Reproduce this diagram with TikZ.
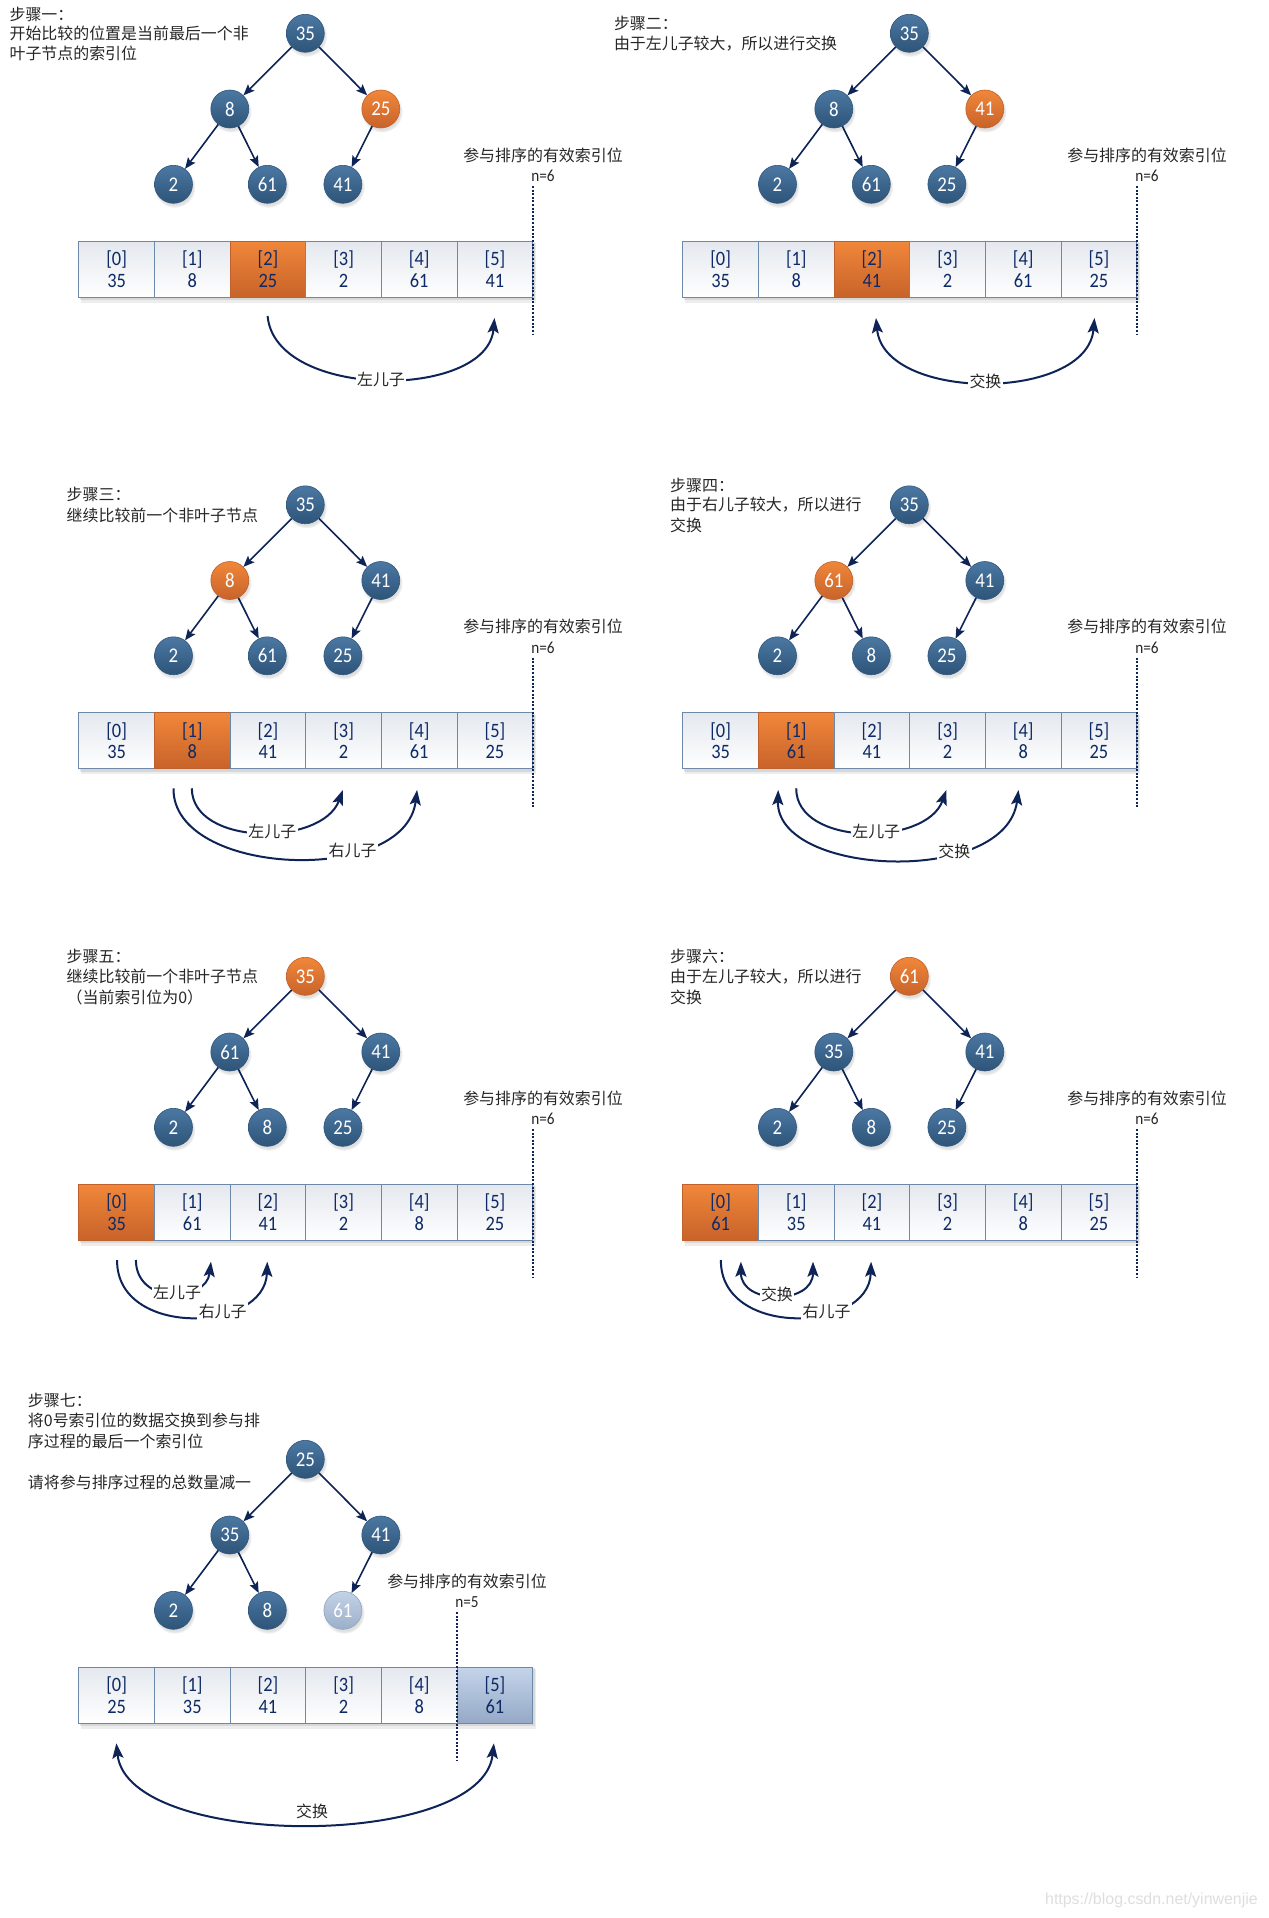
\documentclass[tikz,border=0pt]{standalone}
\usepackage{fontspec}
\setmainfont{Carlito}
\newfontfamily\cjk{Noto Sans CJK SC}
\newfontfamily\numfam[FakeStretch=0.9]{Carlito}
\newfontfamily\wmfam{Liberation Sans}
\usetikzlibrary{arrows.meta,shadows}
\definecolor{navy}{HTML}{0E2457}
\definecolor{tx}{HTML}{262626}
\definecolor{ntop}{HTML}{4B78A3}
\definecolor{nbot}{HTML}{2E5478}
\definecolor{nbord}{HTML}{30577C}
\definecolor{otop}{HTML}{F0873A}
\definecolor{obot}{HTML}{C8632A}
\definecolor{obord}{HTML}{C0602C}
\definecolor{ftop}{HTML}{C3D2E6}
\definecolor{fbot}{HTML}{9CAFCA}
\definecolor{fbord}{HTML}{8FA4C2}
\definecolor{ctop}{HTML}{E4E8EE}
\definecolor{cbord}{HTML}{6C89AA}
\definecolor{ctext}{HTML}{0E2A66}
\definecolor{fctop}{HTML}{C4D4EA}
\definecolor{fcbot}{HTML}{95A9C6}
\newcommand\cjkf{\cjk\fontsize{16}{19}\selectfont}
\newcommand\nodef{\numfam\fontsize{21}{22}\selectfont}
\newcommand\cellf{\numfam\fontsize{20.5}{21.7}\selectfont}
\newcommand\nf{\numfam\fontsize{17}{18}\selectfont}
\tikzset{
  nd0/.style={},nd1/.style={},nd2/.style={},nd3/.style={},nd4/.style={},nd5/.style={},
  cl0/.style={},cl1/.style={},cl2/.style={},cl3/.style={},cl4/.style={},cl5/.style={},
  tn/.style={circle,minimum size=38bp,inner sep=0pt,top color=ntop,bottom color=nbot,
    draw=nbord,line width=.6bp,text=white,font=\nodef,
    circular drop shadow={shadow xshift=1bp,shadow yshift=-2.5bp,opacity=.25}},
  orangenode/.style={top color=otop,bottom color=obot,draw=obord},
  fadenode/.style={top color=ftop,bottom color=fbot,draw=fbord},
  cell/.style={rectangle,minimum width=75.65bp,minimum height=56bp,inner sep=0pt,align=center,
    top color=ctop,bottom color=white,draw=cbord,line width=.8bp,text=ctext,font=\cellf},
  orangecell/.style={top color=otop,bottom color=obot,draw=obord},
  fadecell/.style={top color=fctop,bottom color=fcbot},
  tedge/.style={draw=navy,line width=1.6bp,-{Stealth[length=11bp,width=9bp,inset=2bp]}},
  arcl/.style={draw=navy,line width=2bp},
  >={Stealth[length=15bp,width=11bp,inset=3bp]},
  arclab/.style={font=\cjkf,text=tx,fill=white,inner sep=1.5bp},
  title/.style={font=\cjkf,text=tx,anchor=west,inner sep=0pt},
  dotl/.style={draw=navy,line width=1.6bp,dash pattern=on 2bp off 1.6bp},
  vlab/.style={font=\cjkf,text=tx,inner sep=0pt},
  nlab/.style={font=\nf,text=tx,inner sep=0pt},
}
\newcommand\heaptree[7]{%
  \node[tn,nd0] (#1n0) at (305.3,33.3) {#2};
  \node[tn,nd1] (#1n1) at (229.8,109) {#3};
  \node[tn,nd2] (#1n2) at (380.8,109) {#4};
  \node[tn,nd3] (#1n3) at (173.5,184.3) {#5};
  \node[tn,nd4] (#1n4) at (267.3,184.3) {#6};
  \node[tn,nd5] (#1n5) at (342.9,184.3) {#7};
  \draw[tedge] (#1n0) -- (#1n1);
  \draw[tedge] (#1n0) -- (#1n2);
  \draw[tedge] (#1n1) -- (#1n3);
  \draw[tedge] (#1n1) -- (#1n4);
  \draw[tedge] (#1n2) -- (#1n5);
}
\newcommand\heaparray[7]{%
  \fill[black,opacity=.07] (81,243) rectangle (536,302.5);
  \fill[black,opacity=.09] (80,242) rectangle (534.5,300);
  \node[cell,cl0] (#1c0) at (116.6,269) {[0]\\#2};
  \node[cell,cl1] (#1c1) at (192.3,269) {[1]\\#3};
  \node[cell,cl2] (#1c2) at (267.9,269) {[2]\\#4};
  \node[cell,cl3] (#1c3) at (343.6,269) {[3]\\#5};
  \node[cell,cl4] (#1c4) at (419.2,269) {[4]\\#6};
  \node[cell,cl5] (#1c5) at (494.9,269) {[5]\\#7};
}
\newcommand\validmark[4]{%
  \coordinate (#1v1) at (#2,186);
  \coordinate (#1v2) at (#2,335);
  \draw[dotl] (#1v1) -- (#1v2);
  \node[vlab] (#1vl) at (#3,155) {参与排序的有效索引位};
  \node[nlab] (#1vn) at (#3,176) {#4};
}
\begin{document}
\begin{tikzpicture}[x=1bp,y=-1bp]
\useasboundingbox (0,0) rectangle (1268,1918);
\fill[white] (0,0) rectangle (1268,1918);

% ---------- step 1
\begin{scope}[nd2/.style={orangenode},cl2/.style={orangecell}]
  \heaptree{p1}{35}{8}{25}{2}{61}{41}
  \heaparray{p1}{35}{8}{25}{2}{61}{41}
  \validmark{p1}{532.7}{543}{n=6}
  \node[title] (p1t1) at (9.4,14.5) {步骤一：};
  \node[title] (p1t2) at (9.4,33) {开始比较的位置是当前最后一个非};
  \node[title] (p1t3) at (9.4,53) {叶子节点的索引位};
  \coordinate (p1s) at (267.6,316);
  \coordinate (p1e) at (494.5,318);
  \draw[arcl,->] (p1s) .. controls (275,400) and (487,400) .. (p1e) node[arclab,pos=.5] (p1l) {左儿子};
\end{scope}

% ---------- step 2
\begin{scope}[shift={(604,0)},nd2/.style={orangenode},cl2/.style={orangecell}]
  \heaptree{p2}{35}{8}{41}{2}{61}{25}
  \heaparray{p2}{35}{8}{41}{2}{61}{25}
  \validmark{p2}{532.7}{543}{n=6}
  \node[title] (p2t1) at (9.8,23) {步骤二：};
  \node[title] (p2t2) at (9.8,44) {由于左儿子较大，所以进行交换};
  \coordinate (p2s) at (272,318);
  \coordinate (p2e) at (490.5,318);
  \draw[arcl,<->] (p2s) .. controls (280,402) and (483,402) .. (p2e) node[arclab,pos=.5] (p2l) {交换};
\end{scope}

% ---------- step 3
\begin{scope}[shift={(0,471.5)},nd1/.style={orangenode},cl1/.style={orangecell}]
  \heaptree{p3}{35}{8}{41}{2}{61}{25}
  \heaparray{p3}{35}{8}{41}{2}{61}{25}
  \validmark{p3}{532.7}{543}{n=6}
  \node[title] (p3t1) at (66.5,22.8) {步骤三：};
  \node[title] (p3t2) at (66.5,43.5) {继续比较前一个非叶子节点};
  \coordinate (p3s1) at (191.8,316.8);
  \coordinate (p3e1) at (342.9,318.5);
  \draw[arcl,->] (p3s1) .. controls (192,375) and (322,375) .. (p3e1) node[arclab,pos=.56] (p3l1) {左儿子};
  \coordinate (p3s2) at (173.5,316.8);
  \coordinate (p3e2) at (417.1,318.5);
  \draw[arcl,->] (p3s2) .. controls (172,405) and (405,415) .. (p3e2) node[arclab,pos=.68] (p3l2) {右儿子};
\end{scope}

% ---------- step 4
\begin{scope}[shift={(604,471.5)},nd1/.style={orangenode},cl1/.style={orangecell}]
  \heaptree{p4}{35}{61}{41}{2}{8}{25}
  \heaparray{p4}{35}{61}{41}{2}{8}{25}
  \validmark{p4}{532.7}{543}{n=6}
  \node[title] (p4t1) at (66,13.5) {步骤四：};
  \node[title] (p4t2) at (66,32.8) {由于右儿子较大，所以进行};
  \node[title] (p4t3) at (66,53.5) {交换};
  \coordinate (p4s1) at (192.2,316.8);
  \coordinate (p4e1) at (342.4,318.5);
  \draw[arcl,->] (p4s1) .. controls (192,375) and (322,375) .. (p4e1) node[arclab,pos=.56] (p4l1) {左儿子};
  \coordinate (p4s2) at (174.2,318.5);
  \coordinate (p4e2) at (414.5,318.5);
  \draw[arcl,<->] (p4s2) .. controls (172,405) and (402,415) .. (p4e2) node[arclab,pos=.68] (p4l2) {交换};
\end{scope}

% ---------- step 5
\begin{scope}[shift={(0,943)},nd0/.style={orangenode},cl0/.style={orangecell}]
  \heaptree{p5}{35}{61}{41}{2}{8}{25}
  \heaparray{p5}{35}{61}{41}{2}{8}{25}
  \validmark{p5}{532.7}{543}{n=6}
  \node[title] (p5t1) at (66.5,13) {步骤五：};
  \node[title] (p5t2) at (66.5,33.7) {继续比较前一个非叶子节点};
  \node[title] (p5t3) at (66.5,54.7) {（当前索引位为0）};
  \coordinate (p5s1) at (135.9,317);
  \coordinate (p5e1) at (211,318.7);
  \draw[arcl,->] (p5s1) .. controls (136,362) and (206,360) .. (p5e1) node[arclab,pos=.55] (p5l1) {左儿子};
  \coordinate (p5s2) at (117.1,317);
  \coordinate (p5e2) at (267.3,318.7);
  \draw[arcl,->] (p5s2) .. controls (116,395) and (265,390) .. (p5e2) node[arclab,pos=.645] (p5l2) {右儿子};
\end{scope}

% ---------- step 6
\begin{scope}[shift={(604,943)},nd0/.style={orangenode},cl0/.style={orangecell}]
  \heaptree{p6}{61}{35}{41}{2}{8}{25}
  \heaparray{p6}{61}{35}{41}{2}{8}{25}
  \validmark{p6}{532.7}{543}{n=6}
  \node[title] (p6t1) at (66,13.7) {步骤六：};
  \node[title] (p6t2) at (66,34) {由于左儿子较大，所以进行};
  \node[title] (p6t3) at (66,54) {交换};
  \coordinate (p6s1) at (136.9,318.7);
  \coordinate (p6e1) at (209,318.7);
  \draw[arcl,<->] (p6s1) .. controls (137,362) and (209,362) .. (p6e1) node[arclab,pos=.5] (p6l1) {交换};
  \coordinate (p6s2) at (116.9,317);
  \coordinate (p6e2) at (267.1,318.7);
  \draw[arcl,->] (p6s2) .. controls (116,395) and (265,390) .. (p6e2) node[arclab,pos=.645] (p6l2) {右儿子};
\end{scope}

% ---------- step 7
\begin{scope}[shift={(0,1426)},nd5/.style={fadenode},cl5/.style={fadecell}]
  \heaptree{p7}{25}{35}{41}{2}{8}{61}
  \heaparray{p7}{25}{35}{41}{2}{8}{61}
  \validmark{p7}{457.05}{467}{n=5}
  \node[title] (p7t1) at (27.8,-26) {步骤七：};
  \node[title] (p7t2) at (27.8,-6) {将0号索引位的数据交换到参与排};
  \node[title] (p7t3) at (27.8,15) {序过程的最后一个索引位};
  \node[title] (p7t4) at (27.8,56.3) {请将参与排序过程的总数量减一};
  \coordinate (p7s) at (116.3,317.3);
  \coordinate (p7e) at (493.9,317.3);
  \draw[arcl,<->] (p7s) .. controls (128,424) and (482,424) .. (p7e);
  \node[font=\cjkf,text=tx,inner sep=0pt] (p7l) at (312,385.7) {交换};
\end{scope}

\node[font=\wmfam\fontsize{16}{18}\selectfont,text=black!13,anchor=east,inner sep=0pt] (wm) at (1258,1900) {https://blog.csdn.net/yinwenjie};
\end{tikzpicture}
\end{document}
